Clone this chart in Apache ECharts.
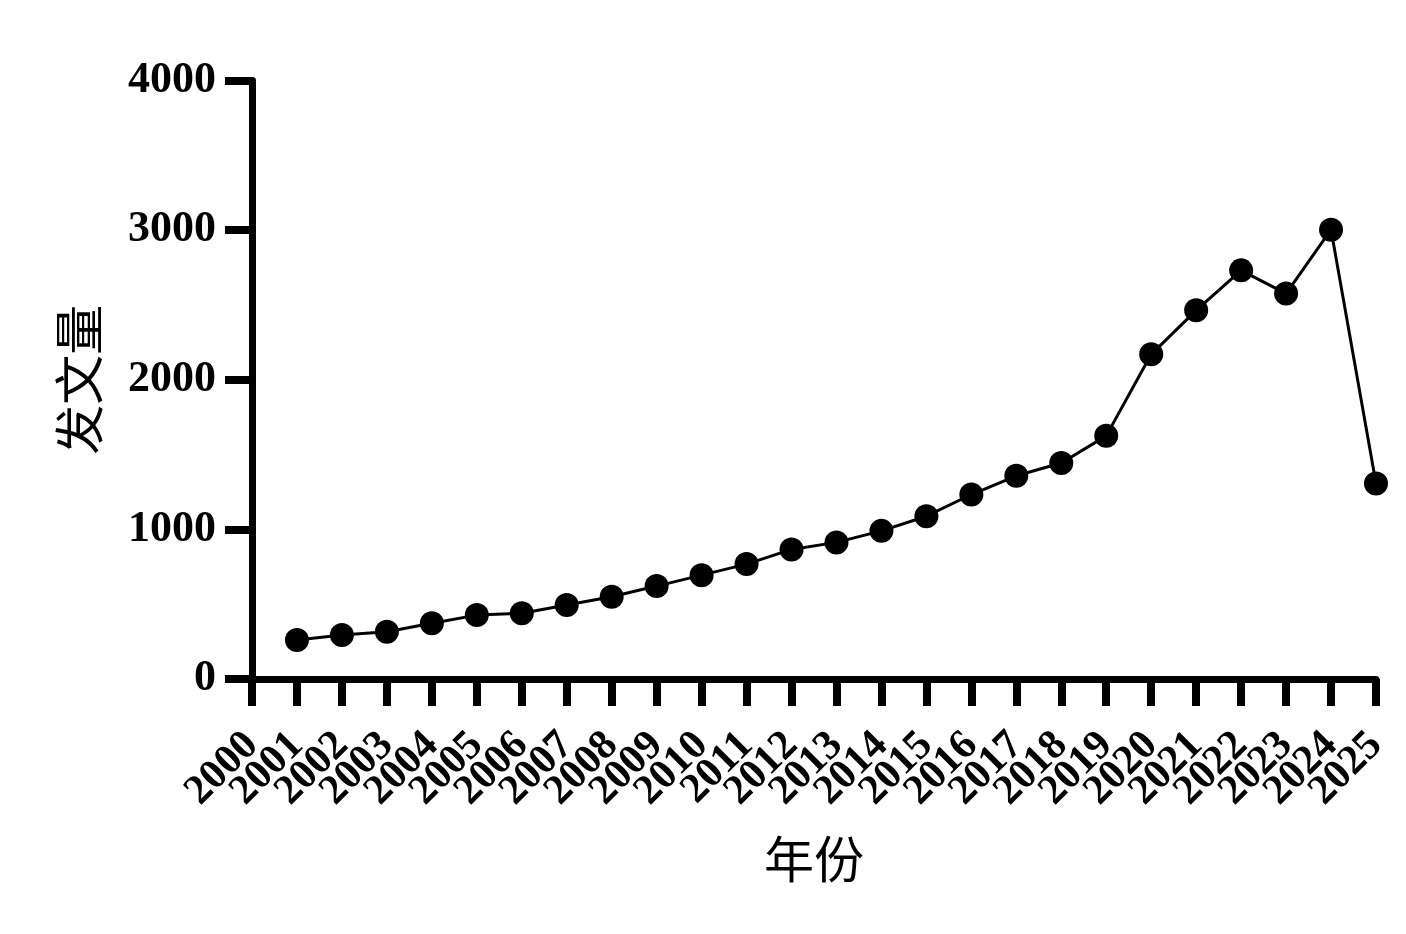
<!DOCTYPE html>
<html>
<head>
<meta charset="utf-8">
<script src="https://cdn.jsdelivr.net/npm/echarts@6/dist/echarts.min.js"></script>
<style>
html,body{margin:0;padding:0;background:#fff;}
#chart{width:1406px;height:934px;}
</style>
</head>
<body>
<div id="chart"></div>
<script>
// Data
var tickYears = ['2000', '2001', '2002', '2003', '2004', '2005', '2006', '2007', '2008',
                 '2009', '2010', '2011', '2012', '2013', '2014', '2015', '2016', '2017',
                 '2018', '2019', '2020', '2021', '2022', '2023', '2024', '2025'];
var years = ['2001', '2002', '2003', '2004', '2005', '2006', '2007', '2008', '2009', '2010',
             '2011', '2012', '2013', '2014', '2015', '2016', '2017', '2018', '2019', '2020',
             '2021', '2022', '2023', '2024', '2025'];
var counts = [260, 294, 316, 372, 427, 439, 494, 550, 621, 694,
              768, 866, 913, 990, 1088, 1233, 1358, 1444, 1625, 2170,
              2464, 2731, 2576, 3003, 1307];
var xTitle = '年份';
var yTitle = '发文量';
var yMin = 0, yMax = 4000, yStep = 1000;

var seriesData = years.map(function (y, i) { return [y, counts[i]]; });

var chart = echarts.init(document.getElementById('chart'), null, {renderer: 'canvas'});
var serif = '"Liberation Serif", "Times New Roman", serif';
var cjk = '"Noto Sans CJK SC", "Noto Sans", sans-serif';

chart.setOption({
  animation: false,
  backgroundColor: '#ffffff',
  grid: {left: 252, right: 30, top: 80.5, bottom: 255, containLabel: false},
  xAxis: {
    type: 'category',
    data: tickYears,
    boundaryGap: false,
    name: xTitle,
    nameLocation: 'middle',
    nameGap: 155,
    nameTextStyle: {fontFamily: cjk, fontSize: 50, color: '#000', fontWeight: 'normal'},
    axisLine: {show: true, onZero: false, lineStyle: {color: '#000', width: 7}},
    axisTick: {show: true, length: 27, interval: 0, alignWithLabel: true, lineStyle: {color: '#000', width: 8}},
    splitLine: {show: false},
    axisLabel: {
      show: true, rotate: 45, margin: 60, interval: 0,
      fontFamily: serif, fontWeight: 'bold', fontSize: 42, color: '#000'
    }
  },
  yAxis: {
    type: 'value',
    min: yMin, max: yMax, interval: yStep,
    name: yTitle,
    nameLocation: 'middle',
    nameGap: 148,
    nameRotate: 90,
    nameTextStyle: {fontFamily: cjk, fontSize: 50, color: '#000', fontWeight: 'normal'},
    axisLine: {show: true, lineStyle: {color: '#000', width: 7}},
    axisTick: {show: true, length: 27, lineStyle: {color: '#000', width: 8}},
    splitLine: {show: false},
    axisLabel: {
      show: true, margin: 36,
      fontFamily: serif, fontWeight: 'bold', fontSize: 44, color: '#000',
      formatter: function (v) { return String(v); }
    }
  },
  series: [{
    type: 'line',
    data: seriesData,
    symbol: 'circle',
    symbolSize: 24,
    showAllSymbol: true,
    lineStyle: {color: '#000', width: 3},
    itemStyle: {color: '#000', borderWidth: 0},
    z: 5
  }]
});
</script>
</body>
</html>
